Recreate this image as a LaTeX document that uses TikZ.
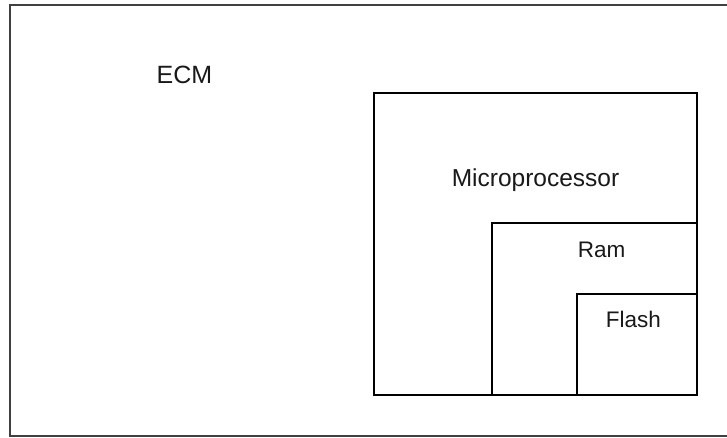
\documentclass[tikz,border=0pt]{standalone}
\usepackage{fontspec}
\setmainfont{Liberation Sans}
\begin{document}
\begin{tikzpicture}[x=1pt,y=-1pt,
  boxnode/.style={draw=black,line width=1.4pt,inner sep=0pt,outer sep=0pt,rectangle},
  lbl/.style={anchor=base,inner sep=0pt,text=black!90}]
\useasboundingbox (0,0) rectangle (727,437);
\node[boxnode,draw=black!75,minimum width=720pt,minimum height=431pt] (ecm) at (370,220.5) {};
\node[boxnode,minimum width=323pt,minimum height=302pt] (micro) at (535.5,244) {};
\node[boxnode,minimum width=205pt,minimum height=172pt] (ram) at (594.5,309) {};
\node[boxnode,minimum width=120pt,minimum height=101pt] (flash) at (637,344.5) {};
\node[lbl,font=\fontsize{25}{30}\selectfont] (ecmlbl) at (184.5,83) {ECM};
\node[lbl,font=\fontsize{24.5}{30}\selectfont] (microlbl) at (535.5,186) {Microprocessor};
\node[lbl,font=\fontsize{22.5}{28}\selectfont] (ramlbl) at (601.7,257) {Ram};
\node[lbl,font=\fontsize{22.5}{28}\selectfont] (flashlbl) at (633.3,327) {Flash};
\end{tikzpicture}
\end{document}
